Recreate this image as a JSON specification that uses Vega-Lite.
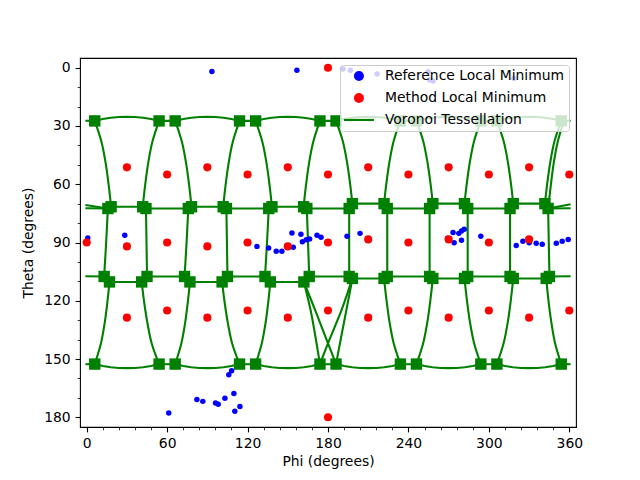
{
  "$schema": "https://vega.github.io/schema/vega-lite/v6.json",
  "width": 496,
  "height": 369,
  "autosize": {"type": "none"},
  "padding": {"left": 80, "top": 58, "right": 64, "bottom": 53},
  "background": "white",
  "config": {
    "font": "DejaVu Sans",
    "view": {"stroke": "black", "strokeWidth": 1.1},
    "axis": {
      "grid": false, "domain": false, "tickColor": "black", "tickWidth": 1.1, "tickSize": 4.9,
      "labelColor": "black", "titleColor": "black", "labelFont": "DejaVu Sans", "titleFont": "DejaVu Sans",
      "labelFontSize": 13.9, "titleFontSize": 13.9, "titleFontWeight": "normal", "labelPadding": 4.9,
      "labelOverlap": false, "labelFlush": false
    }
  },
  "resolve": {"axis": {"x": "independent", "y": "independent"}},
  "datasets": {
    "bands": [
      {"e": "top", "i": 0, "phi": -1, "theta": 27.3},
      {"e": "top", "i": 1, "phi": 6, "theta": 27.4}, {"e": "top", "i": 2, "phi": 12, "theta": 26.4}, {"e": "top", "i": 3, "phi": 18, "theta": 25.8}, {"e": "top", "i": 4, "phi": 24, "theta": 25.4}, {"e": "top", "i": 5, "phi": 30, "theta": 25.3}, {"e": "top", "i": 6, "phi": 36, "theta": 25.4}, {"e": "top", "i": 7, "phi": 42, "theta": 25.8}, {"e": "top", "i": 8, "phi": 48, "theta": 26.4}, {"e": "top", "i": 9, "phi": 54, "theta": 27.4}, {"e": "top", "i": 10, "phi": 60, "theta": 27.3},
      {"e": "top", "i": 11, "phi": 66, "theta": 27.4}, {"e": "top", "i": 12, "phi": 72, "theta": 26.4}, {"e": "top", "i": 13, "phi": 78, "theta": 25.8}, {"e": "top", "i": 14, "phi": 84, "theta": 25.4}, {"e": "top", "i": 15, "phi": 90, "theta": 25.3}, {"e": "top", "i": 16, "phi": 96, "theta": 25.4}, {"e": "top", "i": 17, "phi": 102, "theta": 25.8}, {"e": "top", "i": 18, "phi": 108, "theta": 26.4}, {"e": "top", "i": 19, "phi": 114, "theta": 27.4}, {"e": "top", "i": 20, "phi": 120, "theta": 27.3},
      {"e": "top", "i": 21, "phi": 126, "theta": 27.4}, {"e": "top", "i": 22, "phi": 132, "theta": 26.4}, {"e": "top", "i": 23, "phi": 138, "theta": 25.8}, {"e": "top", "i": 24, "phi": 144, "theta": 25.4}, {"e": "top", "i": 25, "phi": 150, "theta": 25.3}, {"e": "top", "i": 26, "phi": 156, "theta": 25.4}, {"e": "top", "i": 27, "phi": 162, "theta": 25.8}, {"e": "top", "i": 28, "phi": 168, "theta": 26.4}, {"e": "top", "i": 29, "phi": 174, "theta": 27.4}, {"e": "top", "i": 30, "phi": 180, "theta": 27.3},
      {"e": "top", "i": 31, "phi": 186, "theta": 27.4}, {"e": "top", "i": 32, "phi": 192, "theta": 26.4}, {"e": "top", "i": 33, "phi": 198, "theta": 25.8}, {"e": "top", "i": 34, "phi": 204, "theta": 25.4}, {"e": "top", "i": 35, "phi": 210, "theta": 25.3}, {"e": "top", "i": 36, "phi": 216, "theta": 25.4}, {"e": "top", "i": 37, "phi": 222, "theta": 25.8}, {"e": "top", "i": 38, "phi": 228, "theta": 26.4}, {"e": "top", "i": 39, "phi": 234, "theta": 27.4}, {"e": "top", "i": 40, "phi": 240, "theta": 27.3},
      {"e": "top", "i": 41, "phi": 246, "theta": 27.4}, {"e": "top", "i": 42, "phi": 252, "theta": 26.4}, {"e": "top", "i": 43, "phi": 258, "theta": 25.8}, {"e": "top", "i": 44, "phi": 264, "theta": 25.4}, {"e": "top", "i": 45, "phi": 270, "theta": 25.3}, {"e": "top", "i": 46, "phi": 276, "theta": 25.4}, {"e": "top", "i": 47, "phi": 282, "theta": 25.8}, {"e": "top", "i": 48, "phi": 288, "theta": 26.4}, {"e": "top", "i": 49, "phi": 294, "theta": 27.4}, {"e": "top", "i": 50, "phi": 300, "theta": 27.3},
      {"e": "top", "i": 51, "phi": 306, "theta": 27.4}, {"e": "top", "i": 52, "phi": 312, "theta": 26.4}, {"e": "top", "i": 53, "phi": 318, "theta": 25.8}, {"e": "top", "i": 54, "phi": 324, "theta": 25.4}, {"e": "top", "i": 55, "phi": 330, "theta": 25.3}, {"e": "top", "i": 56, "phi": 336, "theta": 25.4}, {"e": "top", "i": 57, "phi": 342, "theta": 25.8}, {"e": "top", "i": 58, "phi": 348, "theta": 26.4}, {"e": "top", "i": 59, "phi": 354, "theta": 27.4}, {"e": "top", "i": 60, "phi": 361, "theta": 27.3},

      {"e": "bot", "i": 0, "phi": -1, "theta": 152.7},
      {"e": "bot", "i": 1, "phi": 6, "theta": 152.6}, {"e": "bot", "i": 2, "phi": 12, "theta": 153.6}, {"e": "bot", "i": 3, "phi": 18, "theta": 154.2}, {"e": "bot", "i": 4, "phi": 24, "theta": 154.6}, {"e": "bot", "i": 5, "phi": 30, "theta": 154.7}, {"e": "bot", "i": 6, "phi": 36, "theta": 154.6}, {"e": "bot", "i": 7, "phi": 42, "theta": 154.2}, {"e": "bot", "i": 8, "phi": 48, "theta": 153.6}, {"e": "bot", "i": 9, "phi": 54, "theta": 152.6}, {"e": "bot", "i": 10, "phi": 60, "theta": 152.7},
      {"e": "bot", "i": 11, "phi": 66, "theta": 152.6}, {"e": "bot", "i": 12, "phi": 72, "theta": 153.6}, {"e": "bot", "i": 13, "phi": 78, "theta": 154.2}, {"e": "bot", "i": 14, "phi": 84, "theta": 154.6}, {"e": "bot", "i": 15, "phi": 90, "theta": 154.7}, {"e": "bot", "i": 16, "phi": 96, "theta": 154.6}, {"e": "bot", "i": 17, "phi": 102, "theta": 154.2}, {"e": "bot", "i": 18, "phi": 108, "theta": 153.6}, {"e": "bot", "i": 19, "phi": 114, "theta": 152.6}, {"e": "bot", "i": 20, "phi": 120, "theta": 152.7},
      {"e": "bot", "i": 21, "phi": 126, "theta": 152.6}, {"e": "bot", "i": 22, "phi": 132, "theta": 153.6}, {"e": "bot", "i": 23, "phi": 138, "theta": 154.2}, {"e": "bot", "i": 24, "phi": 144, "theta": 154.6}, {"e": "bot", "i": 25, "phi": 150, "theta": 154.7}, {"e": "bot", "i": 26, "phi": 156, "theta": 154.6}, {"e": "bot", "i": 27, "phi": 162, "theta": 154.2}, {"e": "bot", "i": 28, "phi": 168, "theta": 153.6}, {"e": "bot", "i": 29, "phi": 174, "theta": 152.6}, {"e": "bot", "i": 30, "phi": 180, "theta": 152.7},
      {"e": "bot", "i": 31, "phi": 186, "theta": 152.6}, {"e": "bot", "i": 32, "phi": 192, "theta": 153.6}, {"e": "bot", "i": 33, "phi": 198, "theta": 154.2}, {"e": "bot", "i": 34, "phi": 204, "theta": 154.6}, {"e": "bot", "i": 35, "phi": 210, "theta": 154.7}, {"e": "bot", "i": 36, "phi": 216, "theta": 154.6}, {"e": "bot", "i": 37, "phi": 222, "theta": 154.2}, {"e": "bot", "i": 38, "phi": 228, "theta": 153.6}, {"e": "bot", "i": 39, "phi": 234, "theta": 152.6}, {"e": "bot", "i": 40, "phi": 240, "theta": 152.7},
      {"e": "bot", "i": 41, "phi": 246, "theta": 152.6}, {"e": "bot", "i": 42, "phi": 252, "theta": 153.6}, {"e": "bot", "i": 43, "phi": 258, "theta": 154.2}, {"e": "bot", "i": 44, "phi": 264, "theta": 154.6}, {"e": "bot", "i": 45, "phi": 270, "theta": 154.7}, {"e": "bot", "i": 46, "phi": 276, "theta": 154.6}, {"e": "bot", "i": 47, "phi": 282, "theta": 154.2}, {"e": "bot", "i": 48, "phi": 288, "theta": 153.6}, {"e": "bot", "i": 49, "phi": 294, "theta": 152.6}, {"e": "bot", "i": 50, "phi": 300, "theta": 152.7},
      {"e": "bot", "i": 51, "phi": 306, "theta": 152.6}, {"e": "bot", "i": 52, "phi": 312, "theta": 153.6}, {"e": "bot", "i": 53, "phi": 318, "theta": 154.2}, {"e": "bot", "i": 54, "phi": 324, "theta": 154.6}, {"e": "bot", "i": 55, "phi": 330, "theta": 154.7}, {"e": "bot", "i": 56, "phi": 336, "theta": 154.6}, {"e": "bot", "i": 57, "phi": 342, "theta": 154.2}, {"e": "bot", "i": 58, "phi": 348, "theta": 153.6}, {"e": "bot", "i": 59, "phi": 354, "theta": 152.6}, {"e": "bot", "i": 60, "phi": 361, "theta": 152.7},

      {"e": "up", "i": 0, "phi": -1, "theta": 72.4}, {"e": "up", "i": 1, "phi": 15.8, "theta": 72.5}, {"e": "up", "i": 2, "phi": 18.2, "theta": 71.6}, {"e": "up", "i": 3, "phi": 41.8, "theta": 71.6}, {"e": "up", "i": 4, "phi": 44.2, "theta": 72.5}, {"e": "up", "i": 5, "phi": 75.8, "theta": 72.5}, {"e": "up", "i": 6, "phi": 78.2, "theta": 71.6}, {"e": "up", "i": 7, "phi": 101.8, "theta": 71.6}, {"e": "up", "i": 8, "phi": 104.2, "theta": 72.5}, {"e": "up", "i": 9, "phi": 135.8, "theta": 72.5}, {"e": "up", "i": 10, "phi": 138.2, "theta": 71.6}, {"e": "up", "i": 11, "phi": 161.8, "theta": 71.6}, {"e": "up", "i": 12, "phi": 164.2, "theta": 72.5}, {"e": "up", "i": 13, "phi": 195.8, "theta": 72.5}, {"e": "up", "i": 14, "phi": 198.2, "theta": 70.0}, {"e": "up", "i": 15, "phi": 221.8, "theta": 70.0}, {"e": "up", "i": 16, "phi": 224.2, "theta": 72.5}, {"e": "up", "i": 17, "phi": 255.8, "theta": 72.5}, {"e": "up", "i": 18, "phi": 258.2, "theta": 70.0}, {"e": "up", "i": 19, "phi": 281.8, "theta": 70.0}, {"e": "up", "i": 20, "phi": 284.2, "theta": 72.5}, {"e": "up", "i": 21, "phi": 315.8, "theta": 72.5}, {"e": "up", "i": 22, "phi": 318.2, "theta": 70.0}, {"e": "up", "i": 23, "phi": 341.8, "theta": 70.0}, {"e": "up", "i": 24, "phi": 344.2, "theta": 72.5}, {"e": "up", "i": 25, "phi": 361, "theta": 72.4},
      {"e": "upL", "i": 0, "phi": -1, "theta": 70.7}, {"e": "upL", "i": 1, "phi": 15.8, "theta": 72.5},
      {"e": "upR", "i": 0, "phi": 344.2, "theta": 72.5}, {"e": "upR", "i": 1, "phi": 361, "theta": 70.3},

      {"e": "low", "i": 0, "phi": -1, "theta": 107.4}, {"e": "low", "i": 1, "phi": 13, "theta": 107.5}, {"e": "low", "i": 2, "phi": 17, "theta": 110.3}, {"e": "low", "i": 3, "phi": 41, "theta": 110.3}, {"e": "low", "i": 4, "phi": 45, "theta": 107.5}, {"e": "low", "i": 5, "phi": 73, "theta": 107.5}, {"e": "low", "i": 6, "phi": 77, "theta": 110.3}, {"e": "low", "i": 7, "phi": 101, "theta": 110.3}, {"e": "low", "i": 8, "phi": 105, "theta": 107.5}, {"e": "low", "i": 9, "phi": 133, "theta": 107.5}, {"e": "low", "i": 10, "phi": 137, "theta": 110.3}, {"e": "low", "i": 11, "phi": 162, "theta": 110.3}, {"e": "low", "i": 12, "phi": 166, "theta": 107.5}, {"e": "low", "i": 13, "phi": 195.8, "theta": 107.5}, {"e": "low", "i": 14, "phi": 198.2, "theta": 108.5}, {"e": "low", "i": 15, "phi": 221.8, "theta": 108.5}, {"e": "low", "i": 16, "phi": 224.2, "theta": 107.5}, {"e": "low", "i": 17, "phi": 255.8, "theta": 107.5}, {"e": "low", "i": 18, "phi": 258.2, "theta": 108.5}, {"e": "low", "i": 19, "phi": 281.8, "theta": 108.5}, {"e": "low", "i": 20, "phi": 284.2, "theta": 107.5}, {"e": "low", "i": 21, "phi": 315.8, "theta": 107.5}, {"e": "low", "i": 22, "phi": 318.2, "theta": 108.5}, {"e": "low", "i": 23, "phi": 342.8, "theta": 108.5}, {"e": "low", "i": 24, "phi": 345.2, "theta": 107.5}, {"e": "low", "i": 25, "phi": 361, "theta": 107.4}
    ],
    "arcs": [
      {"e": "a1", "i": 0, "phi": 6, "theta": 27.4}, {"e": "a1", "i": 1, "phi": 11.1, "theta": 38.4}, {"e": "a1", "i": 2, "phi": 14.2, "theta": 49.4}, {"e": "a1", "i": 3, "phi": 16.4, "theta": 60.5}, {"e": "a1", "i": 4, "phi": 18.2, "theta": 71.6},
      {"e": "a2", "i": 0, "phi": 54, "theta": 27.4}, {"e": "a2", "i": 1, "phi": 48.9, "theta": 38.4}, {"e": "a2", "i": 2, "phi": 45.8, "theta": 49.4}, {"e": "a2", "i": 3, "phi": 43.6, "theta": 60.5}, {"e": "a2", "i": 4, "phi": 41.8, "theta": 71.6},
      {"e": "a3", "i": 0, "phi": 66, "theta": 27.4}, {"e": "a3", "i": 1, "phi": 71.1, "theta": 38.4}, {"e": "a3", "i": 2, "phi": 74.2, "theta": 49.4}, {"e": "a3", "i": 3, "phi": 76.4, "theta": 60.5}, {"e": "a3", "i": 4, "phi": 78.2, "theta": 71.6},
      {"e": "a4", "i": 0, "phi": 114, "theta": 27.4}, {"e": "a4", "i": 1, "phi": 108.9, "theta": 38.4}, {"e": "a4", "i": 2, "phi": 105.8, "theta": 49.4}, {"e": "a4", "i": 3, "phi": 103.6, "theta": 60.5}, {"e": "a4", "i": 4, "phi": 101.8, "theta": 71.6},
      {"e": "a5", "i": 0, "phi": 126, "theta": 27.4}, {"e": "a5", "i": 1, "phi": 131.1, "theta": 38.4}, {"e": "a5", "i": 2, "phi": 134.2, "theta": 49.4}, {"e": "a5", "i": 3, "phi": 136.4, "theta": 60.5}, {"e": "a5", "i": 4, "phi": 138.2, "theta": 71.6},
      {"e": "a6", "i": 0, "phi": 174, "theta": 27.4}, {"e": "a6", "i": 1, "phi": 168.9, "theta": 38.4}, {"e": "a6", "i": 2, "phi": 165.8, "theta": 49.4}, {"e": "a6", "i": 3, "phi": 163.6, "theta": 60.5}, {"e": "a6", "i": 4, "phi": 161.8, "theta": 71.6},
      {"e": "a7", "i": 0, "phi": 186, "theta": 27.4}, {"e": "a7", "i": 1, "phi": 191.1, "theta": 38}, {"e": "a7", "i": 2, "phi": 194.2, "theta": 48.7}, {"e": "a7", "i": 3, "phi": 196.4, "theta": 59.3}, {"e": "a7", "i": 4, "phi": 198.2, "theta": 70},
      {"e": "a8", "i": 0, "phi": 234, "theta": 27.4}, {"e": "a8", "i": 1, "phi": 228.9, "theta": 38}, {"e": "a8", "i": 2, "phi": 225.8, "theta": 48.7}, {"e": "a8", "i": 3, "phi": 223.6, "theta": 59.3}, {"e": "a8", "i": 4, "phi": 221.8, "theta": 70},
      {"e": "a9", "i": 0, "phi": 246, "theta": 27.4}, {"e": "a9", "i": 1, "phi": 251.1, "theta": 38}, {"e": "a9", "i": 2, "phi": 254.2, "theta": 48.7}, {"e": "a9", "i": 3, "phi": 256.4, "theta": 59.3}, {"e": "a9", "i": 4, "phi": 258.2, "theta": 70},
      {"e": "a10", "i": 0, "phi": 294, "theta": 27.4}, {"e": "a10", "i": 1, "phi": 288.9, "theta": 38}, {"e": "a10", "i": 2, "phi": 285.8, "theta": 48.7}, {"e": "a10", "i": 3, "phi": 283.6, "theta": 59.3}, {"e": "a10", "i": 4, "phi": 281.8, "theta": 70},
      {"e": "a11", "i": 0, "phi": 306, "theta": 27.4}, {"e": "a11", "i": 1, "phi": 311.1, "theta": 38}, {"e": "a11", "i": 2, "phi": 314.2, "theta": 48.7}, {"e": "a11", "i": 3, "phi": 316.4, "theta": 59.3}, {"e": "a11", "i": 4, "phi": 318.2, "theta": 70},
      {"e": "a12", "i": 0, "phi": 354, "theta": 27.4}, {"e": "a12", "i": 1, "phi": 348.9, "theta": 38}, {"e": "a12", "i": 2, "phi": 345.8, "theta": 48.7}, {"e": "a12", "i": 3, "phi": 343.6, "theta": 59.3}, {"e": "a12", "i": 4, "phi": 341.8, "theta": 70},
      {"e": "a13", "i": 0, "phi": 356, "theta": 27.4}, {"e": "a13", "i": 1, "phi": 351.2, "theta": 38.6}, {"e": "a13", "i": 2, "phi": 348.2, "theta": 49.9}, {"e": "a13", "i": 3, "phi": 346.1, "theta": 61.2}, {"e": "a13", "i": 4, "phi": 344.2, "theta": 72.5},

      {"e": "v1", "i": 0, "phi": 15.8, "theta": 72.5}, {"e": "v1", "i": 1, "phi": 14.5, "theta": 90}, {"e": "v1", "i": 2, "phi": 13, "theta": 107.5},
      {"e": "v2", "i": 0, "phi": 44.2, "theta": 72.5}, {"e": "v2", "i": 1, "phi": 44.6, "theta": 90}, {"e": "v2", "i": 2, "phi": 45, "theta": 107.5},
      {"e": "v3", "i": 0, "phi": 75.8, "theta": 72.5}, {"e": "v3", "i": 1, "phi": 74.5, "theta": 90}, {"e": "v3", "i": 2, "phi": 73, "theta": 107.5},
      {"e": "v4", "i": 0, "phi": 104.2, "theta": 72.5}, {"e": "v4", "i": 1, "phi": 104.6, "theta": 90}, {"e": "v4", "i": 2, "phi": 105, "theta": 107.5},
      {"e": "v5", "i": 0, "phi": 135.8, "theta": 72.5}, {"e": "v5", "i": 1, "phi": 134.5, "theta": 90}, {"e": "v5", "i": 2, "phi": 133, "theta": 107.5},
      {"e": "v6", "i": 0, "phi": 164.2, "theta": 72.5}, {"e": "v6", "i": 1, "phi": 165.1, "theta": 90}, {"e": "v6", "i": 2, "phi": 166, "theta": 107.5},
      {"e": "v7", "i": 0, "phi": 195.8, "theta": 72.5}, {"e": "v7", "i": 1, "phi": 195.8, "theta": 90}, {"e": "v7", "i": 2, "phi": 195.8, "theta": 107.5},
      {"e": "v8", "i": 0, "phi": 224.2, "theta": 72.5}, {"e": "v8", "i": 1, "phi": 224.2, "theta": 90}, {"e": "v8", "i": 2, "phi": 224.2, "theta": 107.5},
      {"e": "v9", "i": 0, "phi": 255.8, "theta": 72.5}, {"e": "v9", "i": 1, "phi": 255.8, "theta": 90}, {"e": "v9", "i": 2, "phi": 255.8, "theta": 107.5},
      {"e": "v10", "i": 0, "phi": 284.2, "theta": 72.5}, {"e": "v10", "i": 1, "phi": 284.2, "theta": 90}, {"e": "v10", "i": 2, "phi": 284.2, "theta": 107.5},
      {"e": "v11", "i": 0, "phi": 315.8, "theta": 72.5}, {"e": "v11", "i": 1, "phi": 315.8, "theta": 90}, {"e": "v11", "i": 2, "phi": 315.8, "theta": 107.5},
      {"e": "v12", "i": 0, "phi": 344.2, "theta": 72.5}, {"e": "v12", "i": 1, "phi": 344.7, "theta": 90}, {"e": "v12", "i": 2, "phi": 345.2, "theta": 107.5},

      {"e": "b1", "i": 0, "phi": 17, "theta": 110.3}, {"e": "b1", "i": 1, "phi": 15.4, "theta": 120.9}, {"e": "b1", "i": 2, "phi": 13.4, "theta": 131.5}, {"e": "b1", "i": 3, "phi": 10.6, "theta": 142}, {"e": "b1", "i": 4, "phi": 6, "theta": 152.6},
      {"e": "b2", "i": 0, "phi": 41, "theta": 110.3}, {"e": "b2", "i": 1, "phi": 42.9, "theta": 120.9}, {"e": "b2", "i": 2, "phi": 45.3, "theta": 131.5}, {"e": "b2", "i": 3, "phi": 48.5, "theta": 142}, {"e": "b2", "i": 4, "phi": 54, "theta": 152.6},
      {"e": "b3", "i": 0, "phi": 77, "theta": 110.3}, {"e": "b3", "i": 1, "phi": 75.4, "theta": 120.9}, {"e": "b3", "i": 2, "phi": 73.4, "theta": 131.5}, {"e": "b3", "i": 3, "phi": 70.6, "theta": 142}, {"e": "b3", "i": 4, "phi": 66, "theta": 152.6},
      {"e": "b4", "i": 0, "phi": 101, "theta": 110.3}, {"e": "b4", "i": 1, "phi": 102.9, "theta": 120.9}, {"e": "b4", "i": 2, "phi": 105.3, "theta": 131.5}, {"e": "b4", "i": 3, "phi": 108.5, "theta": 142}, {"e": "b4", "i": 4, "phi": 114, "theta": 152.6},
      {"e": "b5", "i": 0, "phi": 137, "theta": 110.3}, {"e": "b5", "i": 1, "phi": 135.4, "theta": 120.9}, {"e": "b5", "i": 2, "phi": 133.4, "theta": 131.5}, {"e": "b5", "i": 3, "phi": 130.6, "theta": 142}, {"e": "b5", "i": 4, "phi": 126, "theta": 152.6},
      {"e": "x1", "i": 0, "phi": 162, "theta": 110.3}, {"e": "x1", "i": 1, "phi": 167, "theta": 124.8}, {"e": "x1", "i": 2, "phi": 170.5, "theta": 138}, {"e": "x1", "i": 3, "phi": 174, "theta": 152.6},
      {"e": "x2", "i": 0, "phi": 162, "theta": 110.3}, {"e": "x2", "i": 1, "phi": 170.5, "theta": 125}, {"e": "x2", "i": 2, "phi": 179.5, "theta": 141}, {"e": "x2", "i": 3, "phi": 186, "theta": 152.6},
      {"e": "x3", "i": 0, "phi": 198.2, "theta": 108.5}, {"e": "x3", "i": 1, "phi": 193.7, "theta": 124.8}, {"e": "x3", "i": 2, "phi": 190, "theta": 138}, {"e": "x3", "i": 3, "phi": 186, "theta": 152.6},
      {"e": "x4", "i": 0, "phi": 198.2, "theta": 108.5}, {"e": "x4", "i": 1, "phi": 190, "theta": 125}, {"e": "x4", "i": 2, "phi": 180.5, "theta": 141}, {"e": "x4", "i": 3, "phi": 174, "theta": 152.6},
      {"e": "b10", "i": 0, "phi": 221.8, "theta": 108.5}, {"e": "b10", "i": 1, "phi": 223.6, "theta": 119.5}, {"e": "b10", "i": 2, "phi": 225.8, "theta": 130.6}, {"e": "b10", "i": 3, "phi": 228.9, "theta": 141.6}, {"e": "b10", "i": 4, "phi": 234, "theta": 152.6},
      {"e": "b11", "i": 0, "phi": 258.2, "theta": 108.5}, {"e": "b11", "i": 1, "phi": 256.4, "theta": 119.5}, {"e": "b11", "i": 2, "phi": 254.2, "theta": 130.6}, {"e": "b11", "i": 3, "phi": 251.1, "theta": 141.6}, {"e": "b11", "i": 4, "phi": 246, "theta": 152.6},
      {"e": "b12", "i": 0, "phi": 281.8, "theta": 108.5}, {"e": "b12", "i": 1, "phi": 283.6, "theta": 119.5}, {"e": "b12", "i": 2, "phi": 285.8, "theta": 130.6}, {"e": "b12", "i": 3, "phi": 288.9, "theta": 141.6}, {"e": "b12", "i": 4, "phi": 294, "theta": 152.6},
      {"e": "b13", "i": 0, "phi": 318.2, "theta": 108.5}, {"e": "b13", "i": 1, "phi": 316.4, "theta": 119.5}, {"e": "b13", "i": 2, "phi": 314.2, "theta": 130.6}, {"e": "b13", "i": 3, "phi": 311.1, "theta": 141.6}, {"e": "b13", "i": 4, "phi": 306, "theta": 152.6},
      {"e": "b14", "i": 0, "phi": 342.8, "theta": 108.5}, {"e": "b14", "i": 1, "phi": 344.4, "theta": 119.5}, {"e": "b14", "i": 2, "phi": 346.5, "theta": 130.6}, {"e": "b14", "i": 3, "phi": 349.3, "theta": 141.6}, {"e": "b14", "i": 4, "phi": 354, "theta": 152.6}
    ],
    "verts": [
      {"phi": 6, "theta": 27.4}, {"phi": 54, "theta": 27.4}, {"phi": 66, "theta": 27.4}, {"phi": 114, "theta": 27.4}, {"phi": 126, "theta": 27.4}, {"phi": 174, "theta": 27.4},
      {"phi": 186, "theta": 27.4}, {"phi": 234, "theta": 27.4}, {"phi": 246, "theta": 27.4}, {"phi": 294, "theta": 27.4}, {"phi": 306, "theta": 27.4}, {"phi": 354, "theta": 27.4},
      {"phi": 6, "theta": 152.6}, {"phi": 54, "theta": 152.6}, {"phi": 66, "theta": 152.6}, {"phi": 114, "theta": 152.6}, {"phi": 126, "theta": 152.6}, {"phi": 174, "theta": 152.6},
      {"phi": 186, "theta": 152.6}, {"phi": 234, "theta": 152.6}, {"phi": 246, "theta": 152.6}, {"phi": 294, "theta": 152.6}, {"phi": 306, "theta": 152.6}, {"phi": 354, "theta": 152.6},
      {"phi": 15.8, "theta": 72.5}, {"phi": 18.2, "theta": 71.6}, {"phi": 41.8, "theta": 71.6}, {"phi": 44.2, "theta": 72.5}, {"phi": 75.8, "theta": 72.5}, {"phi": 78.2, "theta": 71.6},
      {"phi": 101.8, "theta": 71.6}, {"phi": 104.2, "theta": 72.5}, {"phi": 135.8, "theta": 72.5}, {"phi": 138.2, "theta": 71.6}, {"phi": 161.8, "theta": 71.6}, {"phi": 164.2, "theta": 72.5},
      {"phi": 195.8, "theta": 72.5}, {"phi": 198.2, "theta": 70.0}, {"phi": 221.8, "theta": 70.0}, {"phi": 224.2, "theta": 72.5}, {"phi": 255.8, "theta": 72.5}, {"phi": 258.2, "theta": 70.0},
      {"phi": 281.8, "theta": 70.0}, {"phi": 284.2, "theta": 72.5}, {"phi": 315.8, "theta": 72.5}, {"phi": 318.2, "theta": 70.0}, {"phi": 341.8, "theta": 70.0}, {"phi": 344.2, "theta": 72.5},
      {"phi": 13, "theta": 107.5}, {"phi": 17, "theta": 110.3}, {"phi": 41, "theta": 110.3}, {"phi": 45, "theta": 107.5}, {"phi": 73, "theta": 107.5}, {"phi": 77, "theta": 110.3},
      {"phi": 101, "theta": 110.3}, {"phi": 105, "theta": 107.5}, {"phi": 133, "theta": 107.5}, {"phi": 137, "theta": 110.3}, {"phi": 162, "theta": 110.3}, {"phi": 166, "theta": 107.5},
      {"phi": 195.8, "theta": 107.5}, {"phi": 198.2, "theta": 108.5}, {"phi": 221.8, "theta": 108.5}, {"phi": 224.2, "theta": 107.5}, {"phi": 255.8, "theta": 107.5}, {"phi": 258.2, "theta": 108.5},
      {"phi": 281.8, "theta": 108.5}, {"phi": 284.2, "theta": 107.5}, {"phi": 315.8, "theta": 107.5}, {"phi": 318.2, "theta": 108.5}, {"phi": 342.8, "theta": 108.5}, {"phi": 345.2, "theta": 107.5}
    ],
    "ref": [
      {"phi": 93.4, "theta": 1.9, "kind": "Reference Local Minimum"}, {"phi": 156.8, "theta": 1.3, "kind": "Reference Local Minimum"},
      {"phi": 191.2, "theta": 0.7, "kind": "Reference Local Minimum"}, {"phi": 196.7, "theta": 1.3, "kind": "Reference Local Minimum"},
      {"phi": 216.6, "theta": 3.2, "kind": "Reference Local Minimum"}, {"phi": 254.7, "theta": 2.1, "kind": "Reference Local Minimum"},
      {"phi": 256.0, "theta": 6.3, "kind": "Reference Local Minimum"}, {"phi": 258.4, "theta": 6.8, "kind": "Reference Local Minimum"},
      {"phi": 318.7, "theta": 5.5, "kind": "Reference Local Minimum"},
      {"phi": 0.8, "theta": 87.7, "kind": "Reference Local Minimum"}, {"phi": 28.4, "theta": 86.3, "kind": "Reference Local Minimum"},
      {"phi": 127.0, "theta": 92.0, "kind": "Reference Local Minimum"}, {"phi": 135.7, "theta": 92.8, "kind": "Reference Local Minimum"},
      {"phi": 141.4, "theta": 94.5, "kind": "Reference Local Minimum"}, {"phi": 145.6, "theta": 94.5, "kind": "Reference Local Minimum"},
      {"phi": 153.1, "theta": 85.1, "kind": "Reference Local Minimum"}, {"phi": 154.1, "theta": 92.5, "kind": "Reference Local Minimum"},
      {"phi": 159.8, "theta": 85.8, "kind": "Reference Local Minimum"}, {"phi": 160.9, "theta": 89.6, "kind": "Reference Local Minimum"},
      {"phi": 163.8, "theta": 88.6, "kind": "Reference Local Minimum"}, {"phi": 166.3, "theta": 88.2, "kind": "Reference Local Minimum"},
      {"phi": 171.8, "theta": 86.3, "kind": "Reference Local Minimum"}, {"phi": 174.8, "theta": 87.3, "kind": "Reference Local Minimum"},
      {"phi": 194.2, "theta": 86.8, "kind": "Reference Local Minimum"}, {"phi": 203.9, "theta": 85.3, "kind": "Reference Local Minimum"},
      {"phi": 269.2, "theta": 87.8, "kind": "Reference Local Minimum"}, {"phi": 273.3, "theta": 84.8, "kind": "Reference Local Minimum"},
      {"phi": 277.6, "theta": 85.3, "kind": "Reference Local Minimum"}, {"phi": 279.6, "theta": 84.1, "kind": "Reference Local Minimum"},
      {"phi": 281.6, "theta": 83.2, "kind": "Reference Local Minimum"}, {"phi": 274.1, "theta": 90.1, "kind": "Reference Local Minimum"},
      {"phi": 279.6, "theta": 88.9, "kind": "Reference Local Minimum"}, {"phi": 294.0, "theta": 86.8, "kind": "Reference Local Minimum"},
      {"phi": 320.4, "theta": 91.5, "kind": "Reference Local Minimum"}, {"phi": 325.4, "theta": 89.4, "kind": "Reference Local Minimum"},
      {"phi": 330.1, "theta": 90.1, "kind": "Reference Local Minimum"}, {"phi": 335.3, "theta": 90.4, "kind": "Reference Local Minimum"},
      {"phi": 339.8, "theta": 90.9, "kind": "Reference Local Minimum"}, {"phi": 350.3, "theta": 90.4, "kind": "Reference Local Minimum"},
      {"phi": 354.7, "theta": 89.4, "kind": "Reference Local Minimum"}, {"phi": 359.2, "theta": 88.4, "kind": "Reference Local Minimum"},
      {"phi": 61.2, "theta": 177.8, "kind": "Reference Local Minimum"}, {"phi": 82.2, "theta": 170.8, "kind": "Reference Local Minimum"},
      {"phi": 86.6, "theta": 171.8, "kind": "Reference Local Minimum"}, {"phi": 96.1, "theta": 172.7, "kind": "Reference Local Minimum"},
      {"phi": 98.1, "theta": 173.3, "kind": "Reference Local Minimum"}, {"phi": 103.1, "theta": 170.2, "kind": "Reference Local Minimum"},
      {"phi": 109.8, "theta": 167.7, "kind": "Reference Local Minimum"}, {"phi": 114.3, "theta": 174.4, "kind": "Reference Local Minimum"},
      {"phi": 110.5, "theta": 176.9, "kind": "Reference Local Minimum"}, {"phi": 106.0, "theta": 158.1, "kind": "Reference Local Minimum"},
      {"phi": 108.1, "theta": 156.0, "kind": "Reference Local Minimum"}
    ],
    "met": [
      {"phi": 180, "theta": 0, "kind": "Method Local Minimum"}, {"phi": 180, "theta": 180, "kind": "Method Local Minimum"},
      {"phi": 30, "theta": 51.3, "kind": "Method Local Minimum"}, {"phi": 90, "theta": 51.3, "kind": "Method Local Minimum"}, {"phi": 150, "theta": 51.3, "kind": "Method Local Minimum"},
      {"phi": 210, "theta": 51.3, "kind": "Method Local Minimum"}, {"phi": 270, "theta": 51.3, "kind": "Method Local Minimum"}, {"phi": 330, "theta": 51.3, "kind": "Method Local Minimum"},
      {"phi": 60, "theta": 55, "kind": "Method Local Minimum"}, {"phi": 120, "theta": 55, "kind": "Method Local Minimum"}, {"phi": 180, "theta": 55, "kind": "Method Local Minimum"},
      {"phi": 240, "theta": 55, "kind": "Method Local Minimum"}, {"phi": 300, "theta": 55, "kind": "Method Local Minimum"}, {"phi": 360, "theta": 55, "kind": "Method Local Minimum"},
      {"phi": 0, "theta": 90, "kind": "Method Local Minimum"}, {"phi": 60, "theta": 90, "kind": "Method Local Minimum"}, {"phi": 120, "theta": 90, "kind": "Method Local Minimum"},
      {"phi": 180, "theta": 90, "kind": "Method Local Minimum"}, {"phi": 240, "theta": 90, "kind": "Method Local Minimum"}, {"phi": 300, "theta": 90, "kind": "Method Local Minimum"},
      {"phi": 30, "theta": 92, "kind": "Method Local Minimum"}, {"phi": 90, "theta": 92, "kind": "Method Local Minimum"}, {"phi": 150, "theta": 92, "kind": "Method Local Minimum"},
      {"phi": 210, "theta": 88.4, "kind": "Method Local Minimum"}, {"phi": 270, "theta": 88.4, "kind": "Method Local Minimum"}, {"phi": 330, "theta": 88.4, "kind": "Method Local Minimum"},
      {"phi": 60, "theta": 125, "kind": "Method Local Minimum"}, {"phi": 120, "theta": 125, "kind": "Method Local Minimum"}, {"phi": 180, "theta": 125, "kind": "Method Local Minimum"},
      {"phi": 240, "theta": 125, "kind": "Method Local Minimum"}, {"phi": 300, "theta": 125, "kind": "Method Local Minimum"}, {"phi": 360, "theta": 125, "kind": "Method Local Minimum"},
      {"phi": 30, "theta": 128.7, "kind": "Method Local Minimum"}, {"phi": 90, "theta": 128.7, "kind": "Method Local Minimum"}, {"phi": 150, "theta": 128.7, "kind": "Method Local Minimum"},
      {"phi": 210, "theta": 128.7, "kind": "Method Local Minimum"}, {"phi": 270, "theta": 128.7, "kind": "Method Local Minimum"}, {"phi": 330, "theta": 128.7, "kind": "Method Local Minimum"}
    ]
  },
  "layer": [
    {
      "data": {"name": "bands"},
      "mark": {"type": "line", "color": "green", "strokeWidth": 2.1, "clip": true},
      "encoding": {
        "x": {
          "field": "phi", "type": "quantitative",
          "scale": {"domain": [-5, 365], "nice": false, "zero": false},
          "axis": {"orient": "bottom", "title": "Phi (degrees)", "titlePadding": 4, "values": [0, 60, 120, 180, 240, 300, 360]}
        },
        "y": {
          "field": "theta", "type": "quantitative",
          "scale": {"domain": [-5, 185], "nice": false, "zero": false, "reverse": true},
          "axis": {"orient": "left", "title": "Theta (degrees)", "titlePadding": 8, "values": [0, 30, 60, 90, 120, 150, 180]}
        },
        "detail": {"field": "e", "type": "nominal"},
        "order": {"field": "i", "type": "quantitative"}
      }
    },
    {
      "data": {"name": "arcs"},
      "mark": {"type": "line", "color": "green", "strokeWidth": 2.1, "interpolate": "catmull-rom", "clip": true},
      "encoding": {
        "x": {
          "field": "phi", "type": "quantitative",
          "axis": {"orient": "bottom", "title": null, "labels": false, "tickSize": 2.8, "tickWidth": 0.8,
                   "values": [12, 24, 36, 48, 72, 84, 96, 108, 132, 144, 156, 168, 192, 204, 216, 228, 252, 264, 276, 288, 312, 324, 336, 348]}
        },
        "y": {
          "field": "theta", "type": "quantitative",
          "axis": {"orient": "left", "title": null, "labels": false, "tickSize": 2.8, "tickWidth": 0.8,
                   "values": [10, 20, 40, 50, 70, 80, 100, 110, 130, 140, 160, 170]}
        },
        "detail": {"field": "e", "type": "nominal"},
        "order": {"field": "i", "type": "quantitative"}
      }
    },
    {
      "data": {"name": "verts"},
      "mark": {"type": "point", "shape": "square", "filled": true, "color": "green", "opacity": 1, "size": 130},
      "encoding": {
        "x": {"field": "phi", "type": "quantitative", "axis": null},
        "y": {"field": "theta", "type": "quantitative", "axis": null}
      }
    },
    {
      "data": {"name": "ref"},
      "mark": {"type": "point", "filled": true, "opacity": 1, "size": 30},
      "encoding": {
        "x": {"field": "phi", "type": "quantitative", "axis": null},
        "y": {"field": "theta", "type": "quantitative", "axis": null},
        "color": {
          "field": "kind", "type": "nominal",
          "scale": {"domain": ["Reference Local Minimum", "Method Local Minimum", "Voronoi Tessellation"], "range": ["blue", "red", "green"]},
          "legend": {
            "title": null, "orient": "top-right", "offset": 7, "padding": 4,
            "fillColor": "rgba(255,255,255,0.8)", "strokeColor": "#cccccc", "cornerRadius": 3,
            "labelFont": "DejaVu Sans", "labelFontSize": 13.9, "labelColor": "black", "labelLimit": 400,
            "symbolSize": 100, "symbolOffset": 8, "labelOffset": 19, "rowPadding": 7, "symbolStrokeWidth": 0, "symbolOpacity": 1
          }
        },
        "shape": {
          "field": "kind", "type": "nominal",
          "scale": {"domain": ["Reference Local Minimum", "Method Local Minimum", "Voronoi Tessellation"], "range": ["circle", "circle", "M-3,-0.21H3V0.21H-3Z"]},
          "legend": {
            "title": null, "orient": "top-right", "offset": 7, "padding": 4,
            "fillColor": "rgba(255,255,255,0.8)", "strokeColor": "#cccccc", "cornerRadius": 3,
            "labelFont": "DejaVu Sans", "labelFontSize": 13.9, "labelColor": "black", "labelLimit": 400,
            "symbolSize": 100, "symbolOffset": 8, "labelOffset": 19, "rowPadding": 7, "symbolStrokeWidth": 0, "symbolOpacity": 1
          }
        }
      }
    },
    {
      "data": {"name": "met"},
      "mark": {"type": "point", "filled": true, "opacity": 1, "size": 66},
      "encoding": {
        "x": {"field": "phi", "type": "quantitative", "axis": null},
        "y": {"field": "theta", "type": "quantitative", "axis": null},
        "color": {"field": "kind", "type": "nominal"},
        "shape": {"field": "kind", "type": "nominal"}
      }
    }
  ]
}
